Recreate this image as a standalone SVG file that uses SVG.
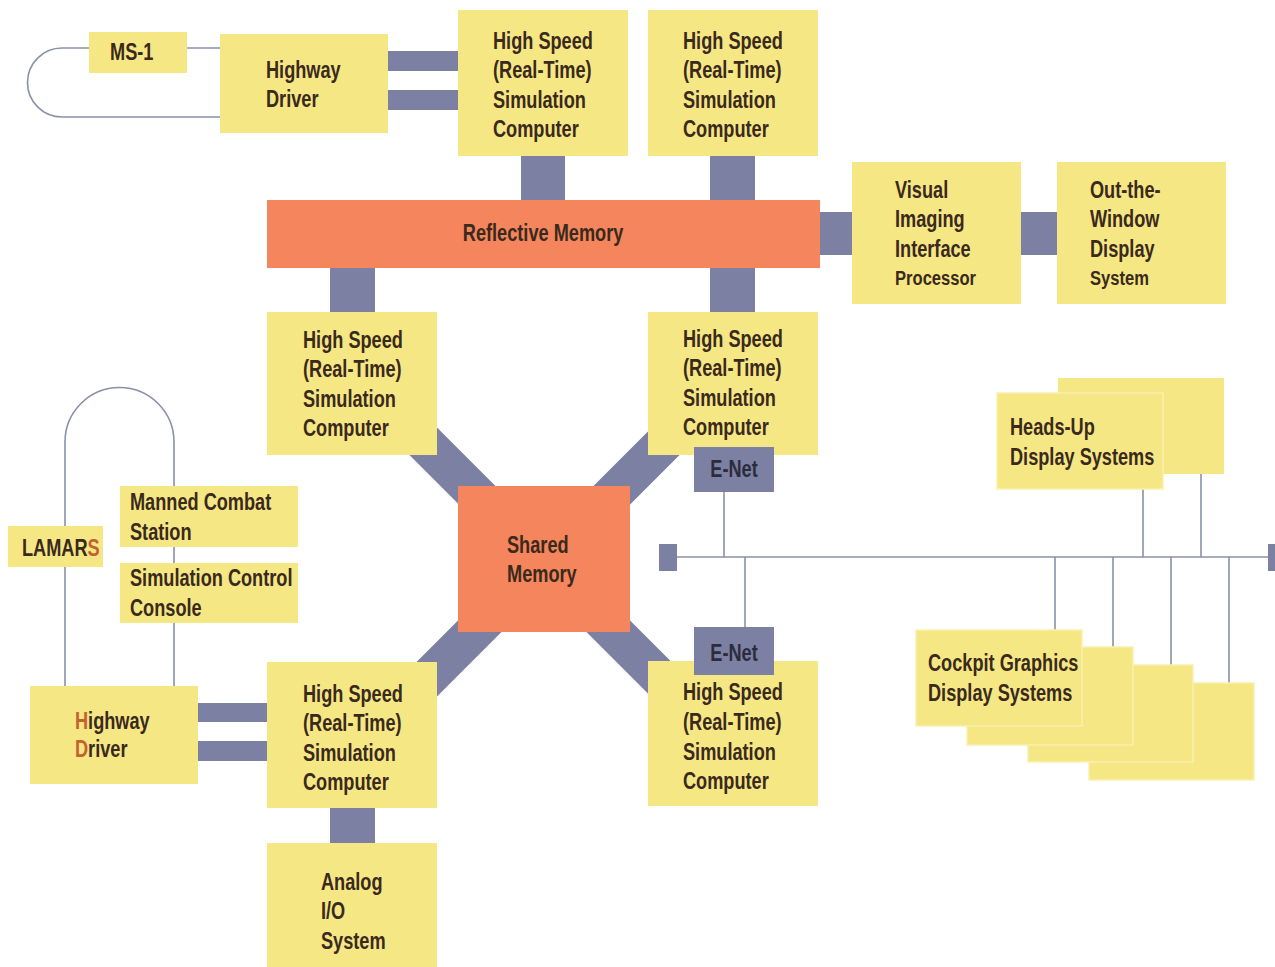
<svg xmlns="http://www.w3.org/2000/svg" width="1275" height="967" viewBox="0 0 1275 967">
<style>
.y{fill:#f6e785}
.o{fill:#f4855c}
.g{fill:#7c80a2}
.band{stroke:#7c80a2;stroke-width:39;fill:none}
.ln{stroke:#8b90aa;stroke-width:1.6;fill:none}
text{font-family:"Liberation Sans",Arial,sans-serif;font-weight:bold;font-size:23px;fill:#3a2a1c;transform-box:fill-box;transform-origin:0 0;transform:scaleX(0.79)}
text.c{transform-origin:50% 50%}
.hl{fill:#c2622c}
.hud{fill:#f6e785;stroke:#faf0b0;stroke-width:1.5}
</style>
<rect width="1275" height="967" fill="#ffffff"/>
<g id="connectors">
<line class="band" x1="380" y1="398" x2="545" y2="563"/>
<line class="band" x1="710" y1="397" x2="545" y2="562"/>
<line class="band" x1="380" y1="726" x2="545" y2="561"/>
<line class="band" x1="710" y1="728" x2="545" y2="563"/>
<rect class="g" x="388" y="51" width="70" height="20"/>
<rect class="g" x="388" y="90" width="70" height="20"/>
<rect class="g" x="521" y="150" width="44" height="56"/>
<rect class="g" x="710" y="150" width="45" height="56"/>
<rect class="g" x="330" y="262" width="45" height="56"/>
<rect class="g" x="710" y="262" width="45" height="56"/>
<rect class="g" x="815" y="212" width="42" height="43"/>
<rect class="g" x="1015" y="212" width="47" height="43"/>
<rect class="g" x="193" y="703" width="78" height="19"/>
<rect class="g" x="193" y="741" width="78" height="20"/>
<rect class="g" x="330" y="802" width="45" height="46"/>
<path class="ln" d="M 90,48 H 62 A 34.5,34.5 0 0 0 62,117 H 222 M 186,48 H 222"/>
<path class="ln" d="M 65,686 V 442 A 54.5,54.5 0 0 1 174,442 V 686"/>
<line class="ln" x1="677" y1="557" x2="1270" y2="557"/>
<line class="ln" x1="724" y1="490" x2="724" y2="557"/>
<line class="ln" x1="745" y1="557" x2="745" y2="628"/>
<line class="ln" x1="1143" y1="487" x2="1143" y2="557"/>
<line class="ln" x1="1201" y1="472" x2="1201" y2="557"/>
<line class="ln" x1="1055" y1="557" x2="1055" y2="631"/>
<line class="ln" x1="1113" y1="557" x2="1113" y2="649"/>
<line class="ln" x1="1171" y1="557" x2="1171" y2="666"/>
<line class="ln" x1="1229" y1="557" x2="1229" y2="685"/>
<rect class="g" x="659" y="544" width="18" height="27"/>
<rect class="g" x="1268" y="544" width="7" height="27"/>
</g>
<g id="ms1"><rect class="y" x="89" y="32" width="98" height="41"/><text x="110" y="60">MS-1</text></g>
<g id="highway-driver-1"><rect class="y" x="220" y="34" width="168" height="99"/><text x="266" y="78">Highway</text><text x="266" y="107">Driver</text></g>
<g id="hs1"><rect class="y" x="458" y="10" width="170" height="146"/><text x="493" y="49">High Speed</text><text x="493" y="78">(Real-Time)</text><text x="493" y="108">Simulation</text><text x="493" y="137">Computer</text></g>
<g id="hs2"><rect class="y" x="648" y="10" width="170" height="146"/><text x="683" y="49">High Speed</text><text x="683" y="78">(Real-Time)</text><text x="683" y="108">Simulation</text><text x="683" y="137">Computer</text></g>
<g id="reflective-memory"><rect class="o" x="267" y="200" width="553" height="68"/><text class="c" x="543" y="241" text-anchor="middle">Reflective Memory</text></g>
<g id="viip"><rect class="y" x="852" y="162" width="169" height="142"/><text x="895" y="198">Visual</text><text x="895" y="227">Imaging</text><text x="895" y="257">Interface</text><text x="895" y="285" style="font-size:21px">Processor</text></g>
<g id="otw"><rect class="y" x="1057" y="162" width="169" height="142"/><text x="1090" y="198">Out-the-</text><text x="1090" y="227">Window</text><text x="1090" y="257">Display</text><text x="1090" y="285" style="font-size:21px">System</text></g>
<g id="hs3"><rect class="y" x="267" y="312" width="170" height="143"/><text x="303" y="348">High Speed</text><text x="303" y="377">(Real-Time)</text><text x="303" y="407">Simulation</text><text x="303" y="436">Computer</text></g>
<g id="hs4"><rect class="y" x="648" y="312" width="170" height="143"/><text x="683" y="347">High Speed</text><text x="683" y="376">(Real-Time)</text><text x="683" y="406">Simulation</text><text x="683" y="435">Computer</text></g>
<g id="enet-1"><rect class="g" x="694" y="447" width="80" height="45"/><text class="c" x="734" y="477" text-anchor="middle" style="fill:#2c2c3c">E-Net</text></g>
<g id="shared-memory"><rect class="o" x="458" y="486" width="172" height="146"/><text x="507" y="553">Shared</text><text x="507" y="582">Memory</text></g>
<g id="lamars"><rect class="y" x="8" y="526" width="95" height="41"/><text x="22" y="556">LAMAR<tspan class="hl">S</tspan></text></g>
<g id="manned-combat-station"><rect class="y" x="120" y="486" width="178" height="61"/><text x="130" y="510">Manned Combat</text><text x="130" y="540">Station</text></g>
<g id="simulation-control-console"><rect class="y" x="120" y="563" width="178" height="60"/><text x="130" y="586">Simulation Control</text><text x="130" y="616">Console</text></g>
<g id="heads-up"><rect class="y" x="1058" y="378" width="166" height="96"/><rect class="hud" x="997" y="393" width="166" height="96"/><text x="1010" y="435">Heads-Up</text><text x="1010" y="465">Display Systems</text></g>
<g id="cockpit-graphics"><rect class="hud" x="1089" y="683" width="165" height="97"/><rect class="hud" x="1028" y="665" width="165" height="97"/><rect class="hud" x="967" y="647" width="166" height="98"/><rect class="hud" x="916" y="630" width="166" height="96"/><text x="928" y="671">Cockpit Graphics</text><text x="928" y="701">Display Systems</text></g>
<g id="hs5"><rect class="y" x="648" y="661" width="170" height="145"/><text x="683" y="700">High Speed</text><text x="683" y="730">(Real-Time)</text><text x="683" y="760">Simulation</text><text x="683" y="789">Computer</text></g>
<g id="enet-2"><rect class="g" x="694" y="627" width="80" height="48"/><text class="c" x="734" y="661" text-anchor="middle" style="fill:#2c2c3c">E-Net</text></g>
<g id="hs6"><rect class="y" x="267" y="662" width="170" height="146"/><text x="303" y="702">High Speed</text><text x="303" y="731">(Real-Time)</text><text x="303" y="761">Simulation</text><text x="303" y="790">Computer</text></g>
<g id="highway-driver-2"><rect class="y" x="30" y="686" width="168" height="98"/><text x="75" y="729"><tspan class="hl">H</tspan>ighway</text><text x="75" y="757"><tspan class="hl">D</tspan>river</text></g>
<g id="analog-io"><rect class="y" x="267" y="843" width="170" height="124"/><text x="321" y="890">Analog</text><text x="321" y="919">I/O</text><text x="321" y="949">System</text></g>
</svg>
